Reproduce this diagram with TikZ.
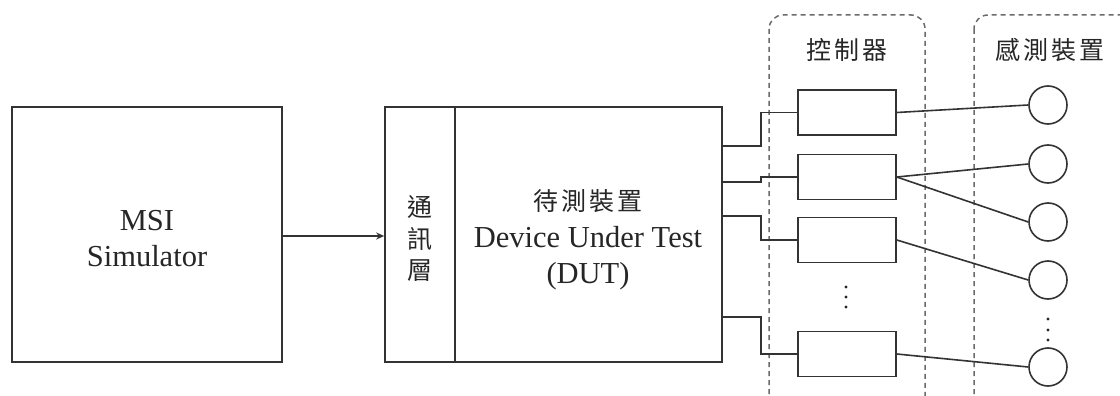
\documentclass[tikz,border=0pt]{standalone}
\usepackage{fontspec}
\setmainfont{Liberation Serif}
\newfontfamily\cjk{Noto Sans CJK TC}[LetterSpace=12]
\usetikzlibrary{arrows.meta}
\definecolor{ln}{HTML}{333333}
\definecolor{dl}{HTML}{6A6A6A}
\begin{document}
\begin{tikzpicture}[x=1pt,y=-1pt,
  line/.style={draw=ln, line width=1.6pt},
  box/.style={line, rectangle, inner sep=0pt},
  ctrl/.style={box, minimum width=98pt, minimum height=45pt},
  sensor/.style={line, circle, minimum size=38pt, inner sep=0pt},
  group/.style={draw=dl, line width=1.5pt, dash pattern=on 5pt off 4pt, rounded corners=14pt},
  lbl/.style={font=\fontsize{30.5}{36}\selectfont, inner sep=0pt, text=black!85},
  cjklbl/.style={font=\cjk\fontsize{25}{31.5}\selectfont, inner sep=0pt, text=black!85, align=center},
  dot/.style={fill=black!85}]
\useasboundingbox (0,0) rectangle (1120,396);
% groups
\draw[group] (769,15) rectangle (925,420);
\draw[group] (974,15) rectangle (1150,420);
\node[cjklbl] (lctrl) at (847,50) {控制器};
\node[cjklbl] (lsens) at (1050,50) {感測裝置};
% MSI
\node[box, minimum width=270pt, minimum height=255pt] (msi) at (147,234.5) {};
\node[lbl, anchor=base] (msi1) at (147,230) {MSI};
\node[lbl, anchor=base] (msi2) at (147,266) {Simulator};
% DUT
\node[box, minimum width=70pt, minimum height=255pt] (comm) at (420,234.5) {};
\node[box, minimum width=267pt, minimum height=255pt] (dut) at (588.5,234.5) {};
\node[cjklbl] (commtxt) at (420,239) {通\\訊\\層};
\node[cjklbl] (dut1) at (588,201) {待測裝置};
\node[lbl, anchor=base] (dut2) at (588,247) {Device Under Test};
\node[lbl, anchor=base] (dut3) at (588,283) {(DUT)};
\draw[line, line width=1.9pt, -{Stealth[length=8pt,width=7pt]}] (msi.east |- 0,236) -- (comm.west |- 0,236);
% controllers
\node[ctrl] (c1) at (847,112.5) {};
\node[ctrl] (c2) at (847,177) {};
\node[ctrl] (c3) at (847,240) {};
\node[ctrl] (c5) at (847,354) {};
\fill[dot] (846,287) circle (1.7) (846,297) circle (1.7) (846,307) circle (1.7);
% wires
\draw[line] (dut.north east) ++(0,40) -- ++(38,0) |- (c1.west);
\draw[line] (dut.north east) ++(0,76) -- ++(38,0) |- (c2.west);
\draw[line] (dut.north east) ++(0,110) -- ++(38,0) |- (c3.west);
\draw[line] (dut.north east) ++(0,211) -- ++(38,0) |- (c5.west);
% sensors
\node[sensor] (s1) at (1048,105) {};
\node[sensor] (s2) at (1048,164) {};
\node[sensor] (s3) at (1048,222) {};
\node[sensor] (s4) at (1048,280) {};
\node[sensor] (s5) at (1048,367) {};
\fill[dot] (1048,319) circle (1.7) (1048,330) circle (1.7) (1048,340) circle (1.7);
\draw[line] (c1.east) -- (s1.west);
\draw[line] (c2.east) -- (s2.west);
\draw[line] (c2.east) -- (s3.west);
\draw[line] (c3.east) -- (s4.west);
\draw[line] (c5.east) -- (s5.west);
\end{tikzpicture}
\end{document}
